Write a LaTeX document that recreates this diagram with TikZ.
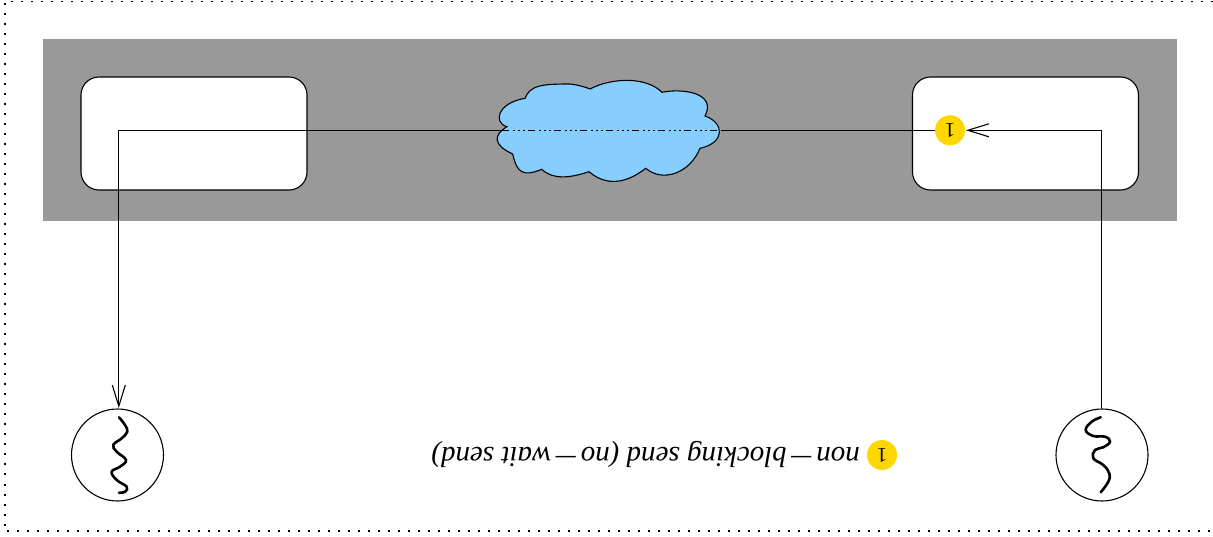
\documentclass[tikz,border=0pt]{standalone}
\usepackage{fontspec}
\usepackage{graphicx}
\setmainfont{Liberation Serif}
\usetikzlibrary{arrows.meta}
\definecolor{panelgray}{HTML}{999999}
\definecolor{cloudblue}{HTML}{87CEFF}
\definecolor{badgegold}{HTML}{FFD700}
\newcommand{\longminus}{\scalebox{1.5}[1]{−}}
\tikzset{
  x=1pt,y=-1pt,
  wire/.style={draw=black,line width=1.1pt},
  barb/.style={-{Straight Barb[length=21pt,width=13pt,line width=1.1pt]}},
  hostbox/.style={draw=black,fill=white,line width=1.1pt,rounded corners=18pt,minimum width=226pt,minimum height=113pt,inner sep=0pt},
  threadcircle/.style={circle,draw=black,line width=1.1pt,minimum size=92pt,inner sep=0pt},
  threadline/.style={line width=2.6pt,line cap=round},
  badge/.style={circle,fill=badgegold,minimum size=30pt,inner sep=0pt,font=\fontsize{21pt}{21pt}\selectfont,rotate=180},
  cloudanchor/.style={minimum width=216pt,minimum height=100pt,inner sep=0pt},
  lanpart/.style={line width=1.2pt,dash pattern=on 7pt off 4pt on 2pt off 3pt on 2pt off 3pt on 2pt off 3pt,dash phase=5pt},
  legend/.style={rotate=180,font=\fontsize{29pt}{29pt}\selectfont\itshape,inner sep=0pt,anchor=west},
  frame/.style={line width=1.4pt,dash pattern=on 2pt off 8pt}
}
\begin{document}
\begin{tikzpicture}
\useasboundingbox (0,0) rectangle (1213,537);
\fill[white] (0,0) rectangle (1213,537);
\draw[frame] (1213,1.5) -- (5,1.5) -- (5,531) -- (1213,531);
\fill[panelgray] (43,39) rectangle (1177,221);
\node[hostbox] (hostL) at (194,133.5) {};
\node[hostbox] (hostR) at (1025.5,133.5) {};
% cloud
\draw[fill=cloudblue,line width=1.1pt]
 (525,98.3) .. controls (530,85) and (543,84) .. (570,84)
 .. controls (570,84) and (580,85) .. (590,89)
 .. controls (613,77) and (647,77) .. (662,92.3)
 .. controls (683,88) and (717,93) .. (705,116)
 .. controls (725,123) and (725,143) .. (700,148.3)
 .. controls (690,173) and (663,183) .. (645.7,168.3)
 .. controls (627,183) and (607,187) .. (589,171.7)
 .. controls (570,178) and (553,180) .. (541.7,169.3)
 .. controls (523,177) and (517,173) .. (512.7,154)
 .. controls (493,145) and (493,135) .. (507,126.7)
 .. controls (493,123) and (497,103) .. (525,98.3) -- cycle;
\node[cloudanchor] (cloud) at (615,130.3) {};
\node[threadcircle] (threadL) at (117.5,455) {};
\node[threadcircle] (threadR) at (1102,455) {};
\node[badge] (badgeA) at (950,130.3) {1};
\node[badge] (badgeB) at (882,455) {1};
\node[legend] (legendtext) at (860,454) {non\longminus blocking send (no\longminus wait send)};
\coordinate (tipA) at (966,130.3);
\draw[wire,barb] ([xshift=-0.8pt]threadR.north) |- (tipA);
\draw[wire] (badgeA.east) -- (cloud.east);
\draw[lanpart] (cloud.west) -- (cloud.east);
\draw[wire,barb] (cloud.west) -| (118.8,408) coordinate (tipB);
\draw[threadline] plot[smooth,tension=.7] coordinates {(119,417.3) (125,425) (127.3,431.7) (121.7,438.3) (113.3,445) (116.7,451.7) (126,460) (120,466.7) (111.7,471.7) (116.7,480) (126.7,486.7) (125,491.7) (119,492.7)};
\draw[threadline] plot[smooth,tension=.7] coordinates {(1100.7,417.3) (1091.7,421.7) (1085.7,430) (1093.3,436) (1105,436.7) (1110,441.7) (1103.3,447.3) (1095,450) (1093.3,458.3) (1103.3,465) (1109.3,473.3) (1108.3,481.7) (1100.7,492.3)};
\end{tikzpicture}
\end{document}
